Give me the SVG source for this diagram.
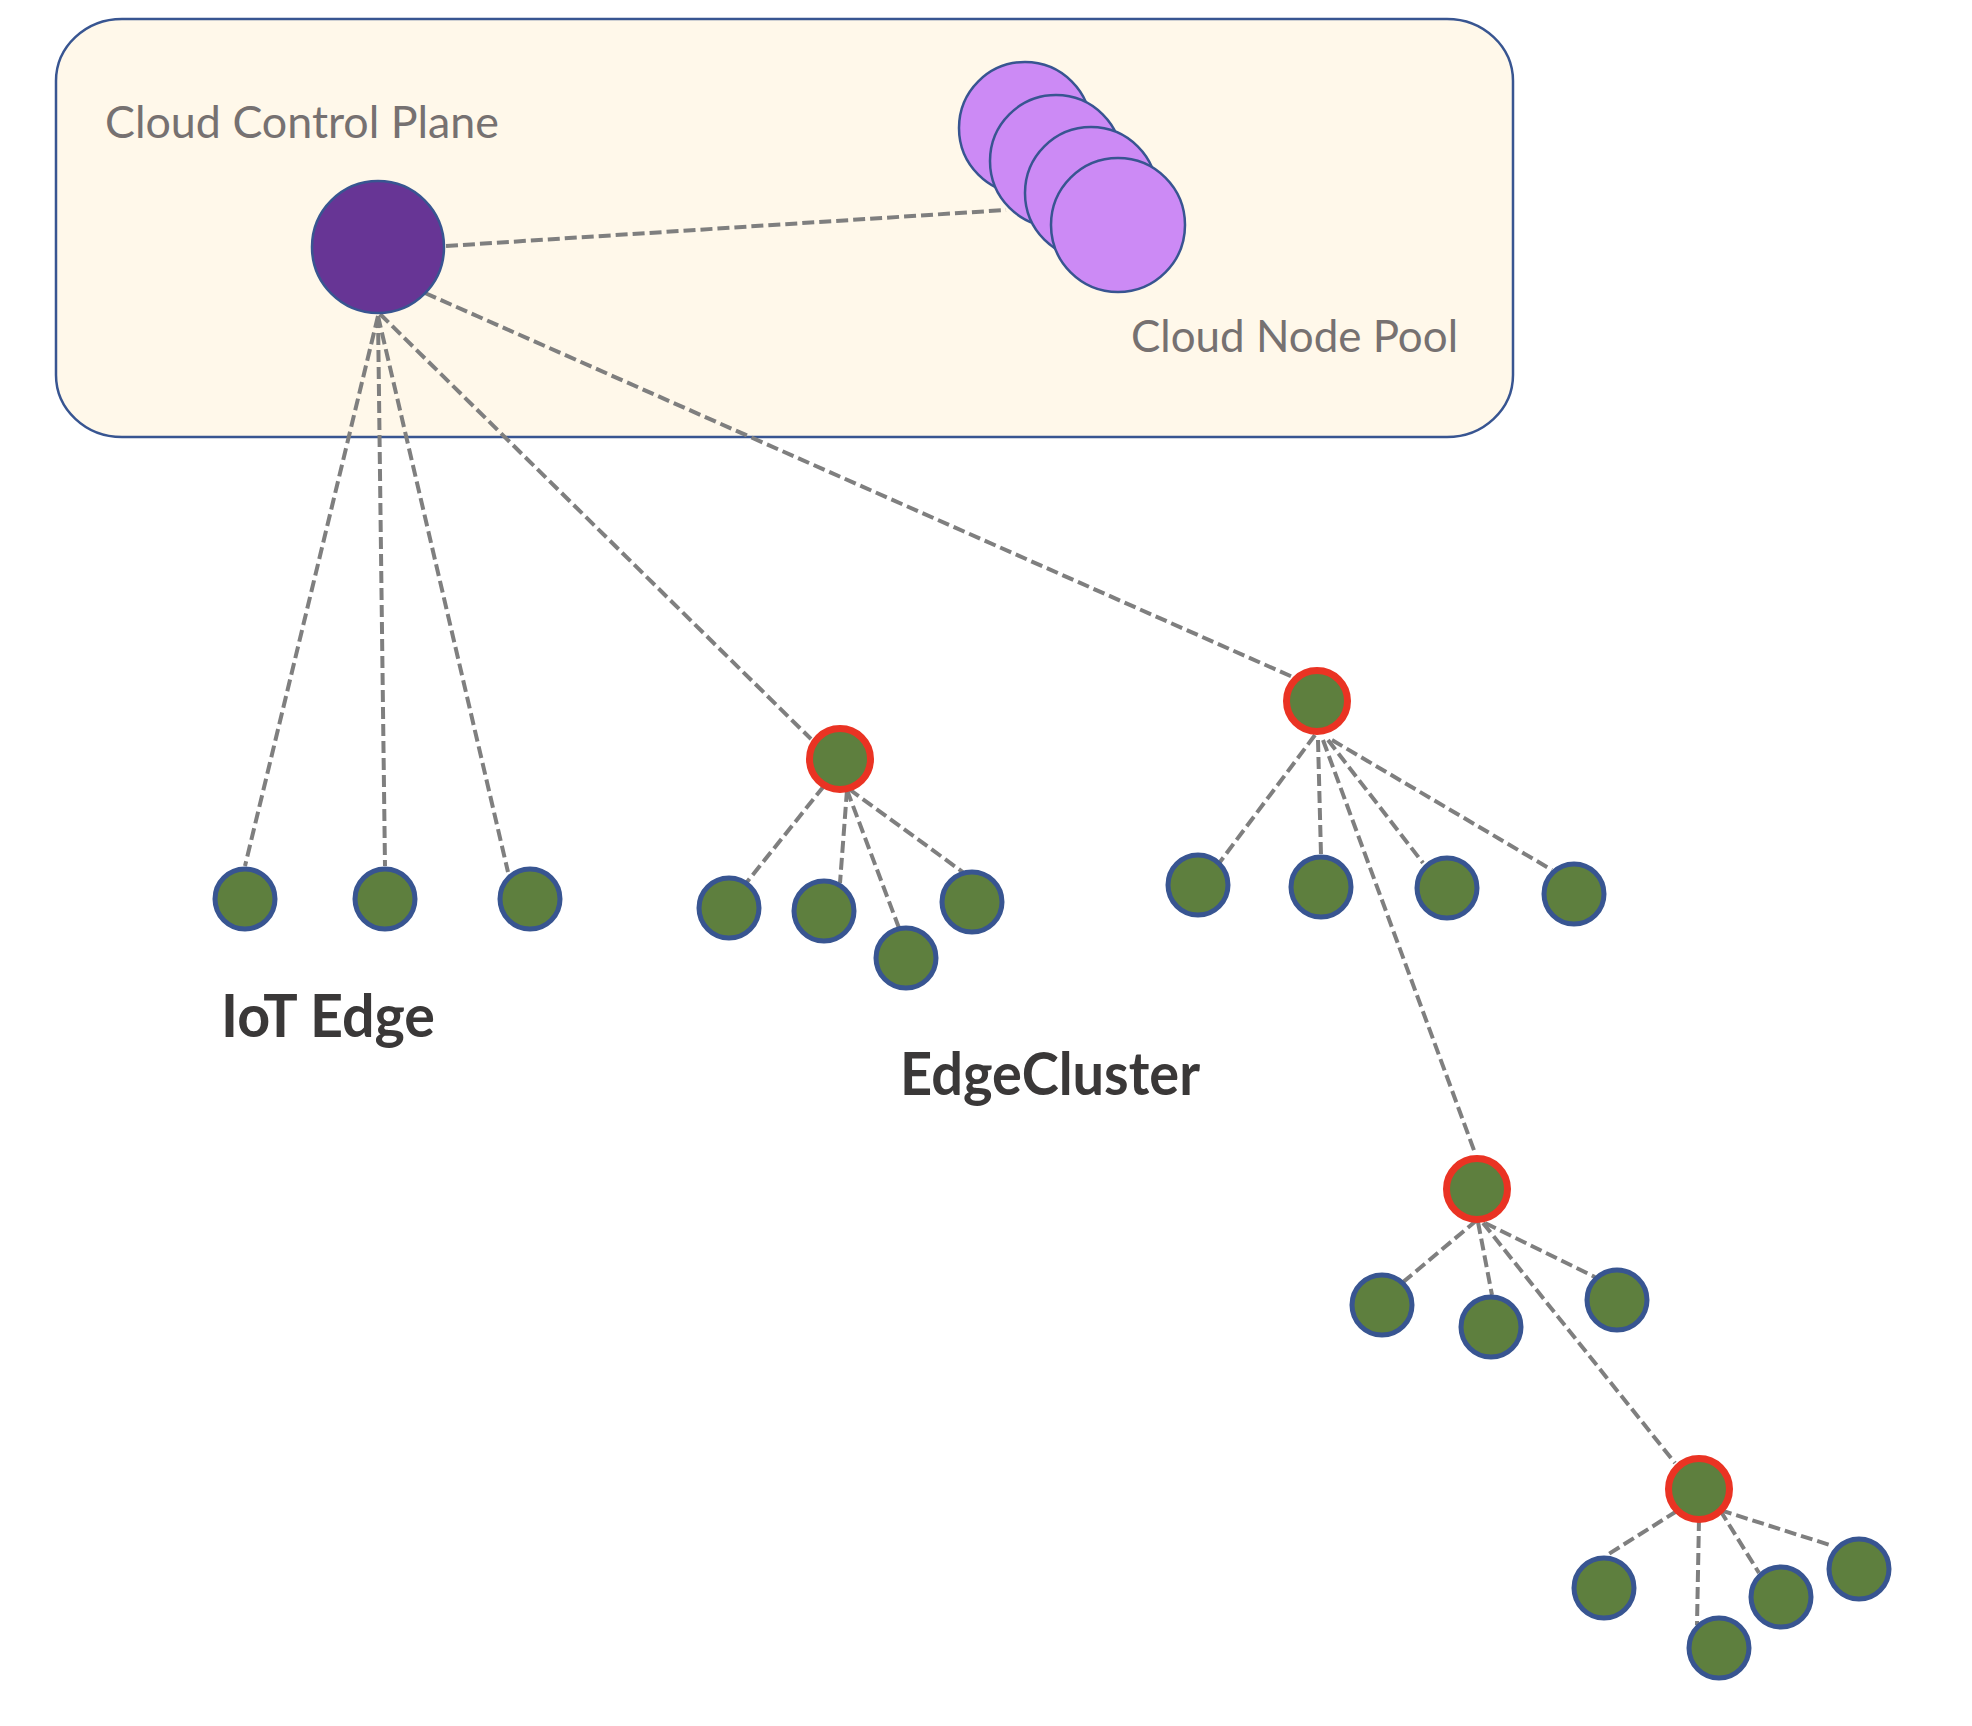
<svg xmlns="http://www.w3.org/2000/svg" width="1972" height="1726" viewBox="0 0 1972 1726">
<style>
.lbl{font-family:Lato,"Open Sans","Liberation Sans",sans-serif;font-size:45px;fill:#767171}
.big{font-family:Lato,"Open Sans","Liberation Sans",sans-serif;font-size:59px;font-weight:bold;fill:#3A3838}
.edge{fill:#5E7F3E;stroke:#385591;stroke-width:5}
.head{fill:#5E7F3E;stroke:#EA3323;stroke-width:7}
.pool{fill:#CC8AF5;stroke:#385591;stroke-width:2.5}
#connectors line{stroke:#7F7F7F;stroke-width:4;stroke-dasharray:12 5;fill:none}
</style>
<rect x="0" y="0" width="1972" height="1726" fill="#FFFFFF"/>
<g id="cloud-control-plane-area">
<rect x="56" y="19" width="1457" height="418" rx="66" ry="62" fill="#FFF8EA" stroke="#385591" stroke-width="2.5"/>
<text class="lbl" x="105" y="138" textLength="394" lengthAdjust="spacingAndGlyphs">Cloud Control Plane</text>
<text class="lbl" x="1131" y="352" textLength="327" lengthAdjust="spacingAndGlyphs">Cloud Node Pool</text>
</g>
<g id="connectors">
<line x1="446" y1="246" x2="1006" y2="210"/>
<line x1="378" y1="316" x2="245" y2="866"/>
<line x1="378" y1="316" x2="385" y2="866"/>
<line x1="378" y1="316" x2="508" y2="872"/>
<line x1="380" y1="314" x2="811" y2="739"/>
<line x1="425" y1="293" x2="1295" y2="678"/>
<line x1="824" y1="786" x2="747" y2="882"/>
<line x1="847" y1="790" x2="840" y2="883"/>
<line x1="847" y1="790" x2="899" y2="928"/>
<line x1="849" y1="789" x2="964" y2="873"/>
<line x1="1315" y1="735" x2="1220" y2="862"/>
<line x1="1318" y1="740" x2="1321" y2="855"/>
<line x1="1323" y1="740" x2="1475" y2="1153"/>
<line x1="1328" y1="740" x2="1423" y2="863"/>
<line x1="1332" y1="740" x2="1552" y2="870"/>
<line x1="1477" y1="1220" x2="1402" y2="1283"/>
<line x1="1478" y1="1222" x2="1492" y2="1295"/>
<line x1="1483" y1="1223" x2="1675" y2="1463"/>
<line x1="1485" y1="1223" x2="1595" y2="1277"/>
<line x1="1677" y1="1511" x2="1607" y2="1555"/>
<line x1="1699" y1="1519" x2="1697" y2="1625"/>
<line x1="1720" y1="1510" x2="1759" y2="1573"/>
<line x1="1720" y1="1510" x2="1833" y2="1546"/>
</g>
<g id="control-plane-node"><circle cx="378" cy="247" r="66" fill="#673595" stroke="#385591" stroke-width="2.5"/></g>
<g id="cloud-node-pool">
<circle class="pool" cx="1025" cy="128" r="66"/>
<circle class="pool" cx="1056" cy="161" r="66"/>
<circle class="pool" cx="1091" cy="193" r="66"/>
<circle class="pool" cx="1118" cy="225" r="67"/>
</g>
<g id="iot-edge">
<circle class="edge" cx="245" cy="899" r="30"/>
<circle class="edge" cx="385" cy="899" r="30"/>
<circle class="edge" cx="530" cy="899" r="30"/>
<text class="big" x="221" y="1037" textLength="214" lengthAdjust="spacingAndGlyphs">IoT Edge</text>
</g>
<g id="edge-cluster-1">
<circle class="head" cx="840" cy="759" r="30.5"/>
<circle class="edge" cx="729" cy="908" r="30"/>
<circle class="edge" cx="824" cy="911" r="30"/>
<circle class="edge" cx="906" cy="958" r="30"/>
<circle class="edge" cx="972" cy="902" r="30"/>
</g>
<text id="edgecluster-label" class="big" x="900" y="1095" textLength="300" lengthAdjust="spacingAndGlyphs">EdgeCluster</text>
<g id="edge-cluster-2">
<circle class="head" cx="1317" cy="701" r="30.5"/>
<circle class="edge" cx="1198" cy="885" r="30"/>
<circle class="edge" cx="1321" cy="887" r="30"/>
<circle class="edge" cx="1447" cy="888" r="30"/>
<circle class="edge" cx="1574" cy="894" r="30"/>
</g>
<g id="edge-cluster-3">
<circle class="head" cx="1477" cy="1189" r="30.5"/>
<circle class="edge" cx="1382" cy="1305" r="30"/>
<circle class="edge" cx="1491" cy="1327" r="30"/>
<circle class="edge" cx="1617" cy="1300" r="30"/>
</g>
<g id="edge-cluster-4">
<circle class="head" cx="1699" cy="1489" r="30.5"/>
<circle class="edge" cx="1604" cy="1588" r="30"/>
<circle class="edge" cx="1719" cy="1648" r="30"/>
<circle class="edge" cx="1781" cy="1597" r="30"/>
<circle class="edge" cx="1859" cy="1569" r="30"/>
</g>
</svg>
